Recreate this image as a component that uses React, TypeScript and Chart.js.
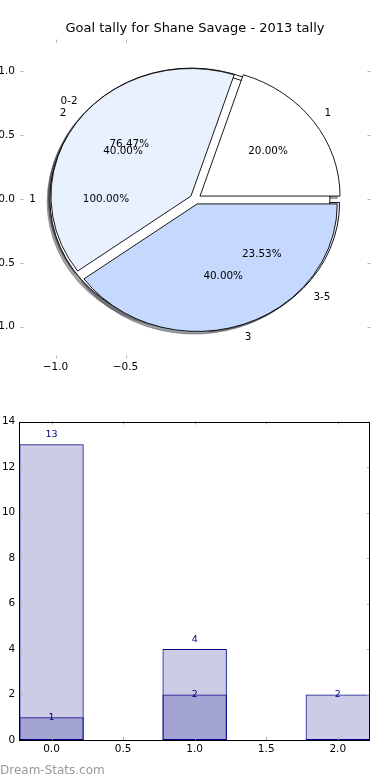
import React, { useEffect, useRef } from "react";
import { Chart, registerables } from "chart.js";

Chart.register(...registerables);

// ---------- data ----------
const chartTitle = "Goal tally for Shane Savage - 2013 tally";

// three pies drawn on the same axes, bottom to top
const rangeLabels = ["0-2", "3-5"];
const rangeValues = [13, 4];
const totalLabels = ["1"];
const totalValues = [1];
const goalLabels = ["1", "2", "3"];
const goalValues = [1, 2, 2];
const pieColors = ["#FFFFFF", "#EAF1FE", "#C5D8FE"];

const pieXTicks = [-1.0, -0.5];
const pieYTicks = [-1.0, -0.5, 0.0, 0.5, 1.0];

const barPositions = [0, 1, 2];
const barBackValues = [13, 4, 0];
const barFrontValues = [1, 2, 2];
const barXTicks = [0, 0.5, 1, 1.5, 2];
const barYTicks = [0, 2, 4, 6, 8, 10, 12, 14];

const watermark = "Dream-Stats.com";

// ---------- style ----------
const FONT = "'DejaVu Sans', sans-serif";
const EXPLODE = 0.04;
const SHADOW_OFFSET = -0.02;
const LABEL_DIST = 1.1;
const PCT_DIST = 0.6;
const NAVY = "#000080";
const BAR_FILL = "rgba(0,0,128,0.2)";

const fmtTick = (v: number) => (v < 0 ? "\u2212" : "") + Math.abs(v).toFixed(1);
const rad = (d: number) => (d * Math.PI) / 180;

function hexRgb(h: string) {
  const n = parseInt(h.slice(1), 16);
  return [(n >> 16) & 255, (n >> 8) & 255, n & 255];
}

function drawInwardTicks(chart: any, xTicks: number[], yTicks: number[], color: string, len: number) {
  const { ctx, chartArea: a, scales } = chart;
  ctx.save();
  ctx.strokeStyle = color;
  ctx.lineWidth = 1;
  ctx.beginPath();
  for (const v of xTicks) {
    const px = Math.round(scales.x.getPixelForValue(v)) + 0.5;
    ctx.moveTo(px, a.top);
    ctx.lineTo(px, a.top + len);
    ctx.moveTo(px, a.bottom);
    ctx.lineTo(px, a.bottom - len);
  }
  for (const v of yTicks) {
    const py = Math.round(scales.y.getPixelForValue(v)) + 0.5;
    ctx.moveTo(a.left, py);
    ctx.lineTo(a.left + len, py);
    ctx.moveTo(a.right, py);
    ctx.lineTo(a.right - len, py);
  }
  ctx.stroke();
  ctx.restore();
}

function wedgePath(ctx: CanvasRenderingContext2D, cx: number, cy: number, rx: number, ry: number, t1: number, t2: number) {
  ctx.beginPath();
  if (t2 - t1 >= 359.999) {
    ctx.ellipse(cx, cy, rx, ry, 0, 0, Math.PI * 2);
    ctx.closePath();
    return;
  }
  ctx.moveTo(cx, cy);
  ctx.ellipse(cx, cy, rx, ry, 0, -rad(t1), -rad(t2), true);
  ctx.closePath();
}

const piePlugin = {
  id: "mplPies",
  afterDatasetsDraw(chart: any) {
    const { ctx, scales } = chart;
    const x = scales.x;
    const y = scales.y;
    const rx = x.getPixelForValue(1) - x.getPixelForValue(0);
    const ry = y.getPixelForValue(0) - y.getPixelForValue(1);
    const pies = [
      { labels: rangeLabels, values: rangeValues },
      { labels: totalLabels, values: totalValues },
      { labels: goalLabels, values: goalValues },
    ];
    const wedges: any[] = [];
    pies.forEach((p) => {
      const sum = p.values.reduce((s, v) => s + v, 0);
      let t = 0;
      p.values.forEach((v, i) => {
        const t1 = t;
        const t2 = t + (360 * v) / sum;
        t = t2;
        const tm = rad((t1 + t2) / 2);
        wedges.push({
          t1,
          t2,
          tm,
          ox: EXPLODE * Math.cos(tm),
          oy: EXPLODE * Math.sin(tm),
          color: pieColors[i % pieColors.length],
          label: p.labels[i],
          pct: (100 * v) / sum,
        });
      });
    });
    ctx.save();
    // shadows (below every wedge)
    for (const w of wedges) {
      const [r, g, b] = hexRgb(w.color);
      const c = `rgba(${Math.round(r * 0.3)},${Math.round(g * 0.3)},${Math.round(b * 0.3)},0.5)`;
      wedgePath(ctx, x.getPixelForValue(w.ox + SHADOW_OFFSET), y.getPixelForValue(w.oy + SHADOW_OFFSET), rx, ry, w.t1, w.t2);
      ctx.fillStyle = c;
      ctx.strokeStyle = c;
      ctx.lineWidth = 0.9;
      ctx.fill();
      ctx.stroke();
    }
    // wedges
    for (const w of wedges) {
      wedgePath(ctx, x.getPixelForValue(w.ox), y.getPixelForValue(w.oy), rx, ry, w.t1, w.t2);
      ctx.fillStyle = w.color;
      ctx.strokeStyle = "#000000";
      ctx.lineWidth = 0.9;
      ctx.fill();
      ctx.stroke();
    }
    // texts
    ctx.font = `10.4px ${FONT}`;
    ctx.fillStyle = "#000000";
    ctx.textBaseline = "middle";
    for (const w of wedges) {
      const lx = w.ox + LABEL_DIST * Math.cos(w.tm);
      const ly = w.oy + LABEL_DIST * Math.sin(w.tm);
      ctx.textAlign = lx > 0 ? "left" : "right";
      ctx.fillText(w.label, x.getPixelForValue(lx), y.getPixelForValue(ly));
      const qx = w.ox + PCT_DIST * Math.cos(w.tm);
      const qy = w.oy + PCT_DIST * Math.sin(w.tm);
      ctx.textAlign = "center";
      ctx.fillText(w.pct.toFixed(2) + "%", x.getPixelForValue(qx), y.getPixelForValue(qy));
    }
    ctx.restore();
    drawInwardTicks(chart, pieXTicks, pieYTicks, "#b4b4b4", 3);
  },
};

const barDecorPlugin = {
  id: "barDecor",
  afterDatasetsDraw(chart: any) {
    const { ctx, chartArea: a, scales } = chart;
    drawInwardTicks(chart, barXTicks, barYTicks, "#a8a8a8", 3);
    ctx.save();
    ctx.strokeStyle = "#000000";
    ctx.lineWidth = 1;
    ctx.strokeRect(Math.round(a.left) + 0.5, Math.round(a.top) + 0.5, Math.round(a.right) - Math.round(a.left) - 1, Math.round(a.bottom) - Math.round(a.top));
    ctx.font = `9.5px ${FONT}`;
    ctx.fillStyle = NAVY;
    ctx.textAlign = "center";
    barPositions.forEach((p, i) => {
      const back = barBackValues[i];
      if (back > 0) {
        ctx.textBaseline = "bottom";
        ctx.fillText(String(back), scales.x.getPixelForValue(p), scales.y.getPixelForValue(back + 0.2));
      }
      const front = barFrontValues[i];
      if (front > 0) {
        ctx.textBaseline = "middle";
        ctx.fillText(String(front), scales.x.getPixelForValue(p), scales.y.getPixelForValue(front));
      }
    });
    ctx.restore();
  },
};

export default function App() {
  const pieRef = useRef<HTMLCanvasElement>(null);
  const barRef = useRef<HTMLCanvasElement>(null);

  useEffect(() => {
    Chart.defaults.font.family = FONT;
    Chart.defaults.color = "#000000";

    const pie = new Chart(pieRef.current as HTMLCanvasElement, {
      type: "scatter",
      data: { datasets: [] },
      options: {
        responsive: false,
        animation: false,
        events: [],
        layout: { padding: 0 },
        plugins: {
          legend: { display: false },
          tooltip: { enabled: false },
          title: {
            display: true,
            text: chartTitle,
            color: "#000000",
            font: { size: 13, weight: "normal", family: FONT, lineHeight: 1.2 },
            padding: { top: 21, bottom: 3 },
          },
        },
        scales: {
          x: {
            type: "linear",
            min: -1.25,
            max: 1.25,
            grid: { display: false, drawTicks: false },
            border: { display: false },
            afterBuildTicks: (s: any) => {
              s.ticks = pieXTicks.map((v) => ({ value: v }));
            },
            afterFit: (s: any) => {
              s.height = 31.5;
            },
            ticks: {
              autoSkip: false,
              maxRotation: 0,
              padding: 2,
              font: { size: 10.5, family: FONT },
              callback: (v: any) => fmtTick(Number(v)),
            },
          },
          y: {
            type: "linear",
            min: -1.25,
            max: 1.25,
            grid: { display: false, drawTicks: false },
            border: { display: false },
            afterBuildTicks: (s: any) => {
              s.ticks = pieYTicks.map((v) => ({ value: v }));
            },
            afterFit: (s: any) => {
              s.width = 20.5;
            },
            ticks: {
              autoSkip: false,
              padding: 5.5,
              font: { size: 10.5, family: FONT },
              callback: (v: any) => fmtTick(Number(v)),
            },
          },
          yRightGap: {
            type: "linear",
            position: "right",
            min: 0,
            max: 1,
            grid: { display: false, drawTicks: false },
            border: { display: false },
            ticks: { display: false },
            afterFit: (s: any) => {
              s.width = 19.5;
            },
          },
        },
      },
      plugins: [piePlugin],
    } as any);

    const bar = new Chart(barRef.current as HTMLCanvasElement, {
      type: "bar",
      data: {
        datasets: [
          {
            label: "front",
            data: barPositions.map((p, i) => ({ x: p, y: barFrontValues[i] })),
            backgroundColor: BAR_FILL,
            borderColor: NAVY,
            borderWidth: 1,
            borderSkipped: false,
            grouped: false,
            categoryPercentage: 1,
            barPercentage: 0.9,
          },
          {
            label: "back",
            data: barPositions.map((p, i) => ({ x: p, y: barBackValues[i] })),
            backgroundColor: BAR_FILL,
            borderColor: NAVY,
            borderWidth: 1,
            borderSkipped: false,
            grouped: false,
            categoryPercentage: 1,
            barPercentage: 0.9,
          },
        ],
      },
      options: {
        responsive: false,
        animation: false,
        events: [],
        layout: { padding: { left: 0, right: 20, top: 31.5, bottom: 0 } },
        plugins: { legend: { display: false }, tooltip: { enabled: false }, title: { display: false } },
        scales: {
          x: {
            type: "linear",
            min: -0.225,
            max: 2.225,
            offset: false,
            grid: { display: false, drawTicks: false },
            border: { display: false },
            afterBuildTicks: (s: any) => {
              s.ticks = barXTicks.map((v) => ({ value: v }));
            },
            afterFit: (s: any) => {
              s.height = 40;
            },
            ticks: {
              autoSkip: false,
              maxRotation: 0,
              padding: 3,
              font: { size: 10.5, family: FONT },
              callback: (v: any) => Number(v).toFixed(1),
            },
          },
          y: {
            type: "linear",
            min: 0,
            max: 14,
            grid: { display: false, drawTicks: false },
            border: { display: false },
            afterBuildTicks: (s: any) => {
              s.ticks = barYTicks.map((v) => ({ value: v }));
            },
            afterFit: (s: any) => {
              s.width = 19.3;
            },
            ticks: {
              autoSkip: false,
              padding: 4,
              font: { size: 10.5, family: FONT },
              callback: (v: any) => String(Number(v)),
            },
          },
        },
      },
      plugins: [barDecorPlugin],
    } as any);

    return () => {
      pie.destroy();
      bar.destroy();
    };
  }, []);

  return (
    <div style={{ position: "fixed", left: 0, top: 0, width: 390, height: 780, background: "#ffffff", overflow: "hidden" }}>
      <canvas ref={pieRef} width={390} height={390} style={{ position: "absolute", left: 0, top: 0, width: 390, height: 390 }} />
      <canvas ref={barRef} width={390} height={390} style={{ position: "absolute", left: 0, top: 390, width: 390, height: 390 }} />
      <div
        style={{
          position: "absolute",
          left: 0,
          top: 763,
          fontFamily: FONT,
          fontSize: 12,
          lineHeight: "14px",
          color: "#999999",
          whiteSpace: "nowrap",
        }}
      >
        {watermark}
      </div>
    </div>
  );
}
